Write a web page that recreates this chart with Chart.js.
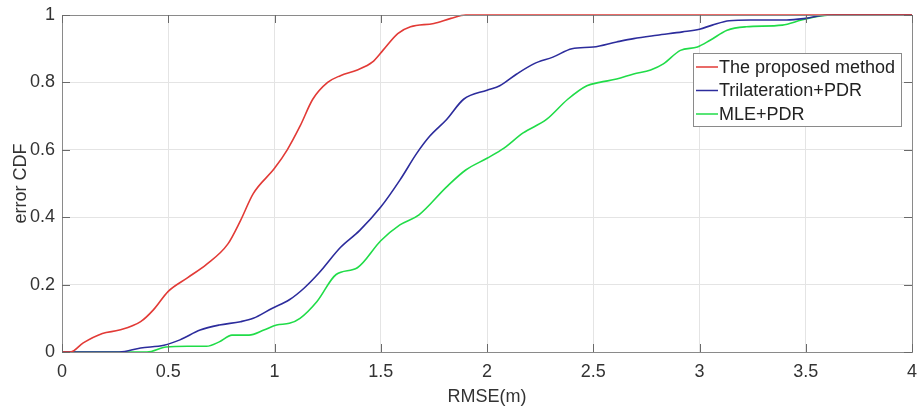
<!DOCTYPE html>
<html>
<head>
<meta charset="utf-8">
<script src="https://cdn.jsdelivr.net/npm/chart.js@4/dist/chart.umd.min.js"></script>
<style>
  html, body { margin: 0; padding: 0; background: #fff; }
  #wrap { width: 921px; height: 412px; }
</style>
</head>
<body>
<div id="wrap"><canvas id="cdf" width="921" height="412"></canvas></div>
<script>
const seriesLabels = ["The proposed method", "Trilateration+PDR", "MLE+PDR"];
const seriesColors = ["#e23a36", "#2c2c9c", "#20dc48"];

const xTicks = [0, 0.5, 1, 1.5, 2, 2.5, 3, 3.5, 4];
const yTicks = [0, 0.2, 0.4, 0.6, 0.8, 1];

const proposedX = [0, 0.04, 0.1, 0.19, 0.27, 0.37, 0.43, 0.5, 0.59, 0.68, 0.78, 0.84, 0.9, 1.0, 1.06, 1.12, 1.18, 1.25, 1.31, 1.39, 1.46, 1.51, 1.58, 1.64, 1.75, 1.83, 1.9, 2.0, 4.0];
const proposedY = [0, 0, 0.027, 0.055, 0.065, 0.09, 0.125, 0.18, 0.22, 0.26, 0.32, 0.39, 0.47, 0.545, 0.6, 0.67, 0.75, 0.8, 0.82, 0.837, 0.86, 0.895, 0.945, 0.965, 0.975, 0.99, 1.0, 1.0, 1.0];

const trilatX = [0, 0.27, 0.37, 0.48, 0.555, 0.65, 0.74, 0.84, 0.9, 0.99, 1.07, 1.14, 1.21, 1.31, 1.4, 1.5, 1.59, 1.67, 1.73, 1.81, 1.89, 2.0, 2.06, 2.14, 2.22, 2.31, 2.4, 2.5, 2.61, 2.69, 2.8, 2.92, 3.0, 3.06, 3.14, 3.24, 3.41, 3.5, 3.6, 4.0];
const trilatY = [0, 0, 0.012, 0.02, 0.036, 0.065, 0.08, 0.09, 0.1, 0.13, 0.155, 0.19, 0.235, 0.31, 0.36, 0.43, 0.51, 0.59, 0.64, 0.69, 0.75, 0.777, 0.79, 0.825, 0.855, 0.875, 0.9, 0.905, 0.92, 0.93, 0.94, 0.95, 0.958, 0.97, 0.983, 0.985, 0.985, 0.99, 1.0, 1.0];

const mleX = [0, 0.4, 0.49, 0.59, 0.68, 0.74, 0.8, 0.88, 0.95, 1.01, 1.07, 1.12, 1.2, 1.29, 1.39, 1.5, 1.59, 1.68, 1.81, 1.9, 2.0, 2.08, 2.17, 2.28, 2.38, 2.47, 2.53, 2.61, 2.69, 2.77, 2.83, 2.91, 2.99, 3.05, 3.13, 3.22, 3.39, 3.48, 3.57, 3.63, 4.0];
const mleY = [0, 0, 0.015, 0.017, 0.017, 0.03, 0.05, 0.05, 0.065, 0.08, 0.085, 0.1, 0.15, 0.23, 0.25, 0.33, 0.377, 0.407, 0.49, 0.54, 0.575, 0.605, 0.65, 0.69, 0.75, 0.79, 0.8, 0.81, 0.825, 0.837, 0.855, 0.895, 0.905, 0.925, 0.955, 0.965, 0.97, 0.985, 0.997, 1.0, 1.0];

const toPoints = (xs, ys) => xs.map((x, i) => ({ x, y: ys[i] }));
const fontFamily = "Arial, 'Liberation Sans', sans-serif";
const textColor = "#333333";
const fmt = (v) => String(Math.round(v * 10) / 10);

function fixBox(axis, key, size) {
  axis[key] = size;
  axis.paddingLeft = 0;
  axis.paddingRight = 0;
  axis.paddingTop = 0;
  axis.paddingBottom = 0;
}

// MATLAB style frame, inward ticks and legend box
const framePlugin = {
  id: "frame",
  afterDraw(chart) {
    const { ctx, scales } = chart;
    const left = scales.x.getPixelForValue(0);
    const right = scales.x.getPixelForValue(4);
    const top = scales.y.getPixelForValue(1);
    const bottom = scales.y.getPixelForValue(0);
    ctx.save();
    ctx.strokeStyle = "#8a8a8a";
    ctx.lineWidth = 1;
    ctx.strokeRect(Math.round(left) + 0.5, Math.round(top) + 0.5,
      Math.round(right - left), Math.round(bottom - top));
    ctx.strokeStyle = "#6a6a6a";
    ctx.beginPath();
    xTicks.forEach((v) => {
      const px = Math.round(scales.x.getPixelForValue(v)) + 0.5;
      ctx.moveTo(px, bottom); ctx.lineTo(px, bottom - 8);
      ctx.moveTo(px, top); ctx.lineTo(px, top + 8);
    });
    yTicks.forEach((v) => {
      const py = Math.round(scales.y.getPixelForValue(v)) + 0.5;
      ctx.moveTo(left, py); ctx.lineTo(left + 8, py);
      ctx.moveTo(right, py); ctx.lineTo(right - 8, py);
    });
    ctx.stroke();

    // legend
    const lx = 693, ly = 53, lw = 208, lh = 73;
    ctx.fillStyle = "#ffffff";
    ctx.fillRect(lx, ly, lw, lh);
    ctx.strokeStyle = "#8a8a8a";
    ctx.strokeRect(lx + 0.5, ly + 0.5, lw, lh);
    ctx.font = "18px " + fontFamily;
    ctx.textBaseline = "middle";
    chart.data.datasets.forEach((ds, i) => {
      const cy = ly + 14 + i * 23.5;
      ctx.strokeStyle = ds.borderColor;
      ctx.lineWidth = 1.5;
      ctx.beginPath();
      ctx.moveTo(lx + 3, cy); ctx.lineTo(lx + 25, cy);
      ctx.stroke();
      ctx.fillStyle = "#222222";
      ctx.fillText(ds.label, lx + 26, cy + 1);
    });
    ctx.restore();
  },
};

new Chart(document.getElementById("cdf").getContext("2d"), {
  type: "line",
  data: {
    datasets: [
      { label: seriesLabels[0], data: toPoints(proposedX, proposedY), borderColor: seriesColors[0], clip: false },
      { label: seriesLabels[1], data: toPoints(trilatX, trilatY), borderColor: seriesColors[1], clip: false },
      { label: seriesLabels[2], data: toPoints(mleX, mleY), borderColor: seriesColors[2], clip: false },
    ],
  },
  options: {
    animation: false,
    responsive: false,
    devicePixelRatio: 1,
    layout: { autoPadding: false, padding: { top: 15, right: 9, left: 0, bottom: 0 } },
    elements: {
      line: { borderWidth: 1.6, tension: 0.35, cubicInterpolationMode: "monotone", fill: false },
      point: { radius: 0 },
    },
    plugins: {
      legend: { display: false },
      tooltip: { enabled: false },
    },
    scales: {
      x: {
        type: "linear",
        min: 0,
        max: 4,
        afterBuildTicks: (axis) => { axis.ticks = xTicks.map((v) => ({ value: v })); },
        afterFit: (axis) => fixBox(axis, "height", 60),
        ticks: {
          color: textColor,
          font: { size: 18, family: fontFamily },
          padding: 9,
          maxRotation: 0,
          callback: fmt,
        },
        grid: { color: "#e4e4e4", drawTicks: false },
        border: { display: false },
        title: {
          display: true,
          text: "RMSE(m)",
          color: textColor,
          font: { size: 18, family: fontFamily },
          padding: { top: 0 },
        },
      },
      y: {
        min: 0,
        max: 1,
        afterBuildTicks: (axis) => { axis.ticks = yTicks.map((v) => ({ value: v })); },
        afterFit: (axis) => fixBox(axis, "width", 62),
        ticks: {
          color: textColor,
          font: { size: 18, family: fontFamily },
          padding: 7,
          callback: fmt,
        },
        grid: { color: "#e4e4e4", drawTicks: false },
        border: { display: false },
        title: {
          display: true,
          text: "error CDF",
          color: textColor,
          font: { size: 18, family: fontFamily },
          padding: { top: 10, bottom: 0 },
        },
      },
    },
  },
  plugins: [framePlugin],
});
</script>
</body>
</html>
